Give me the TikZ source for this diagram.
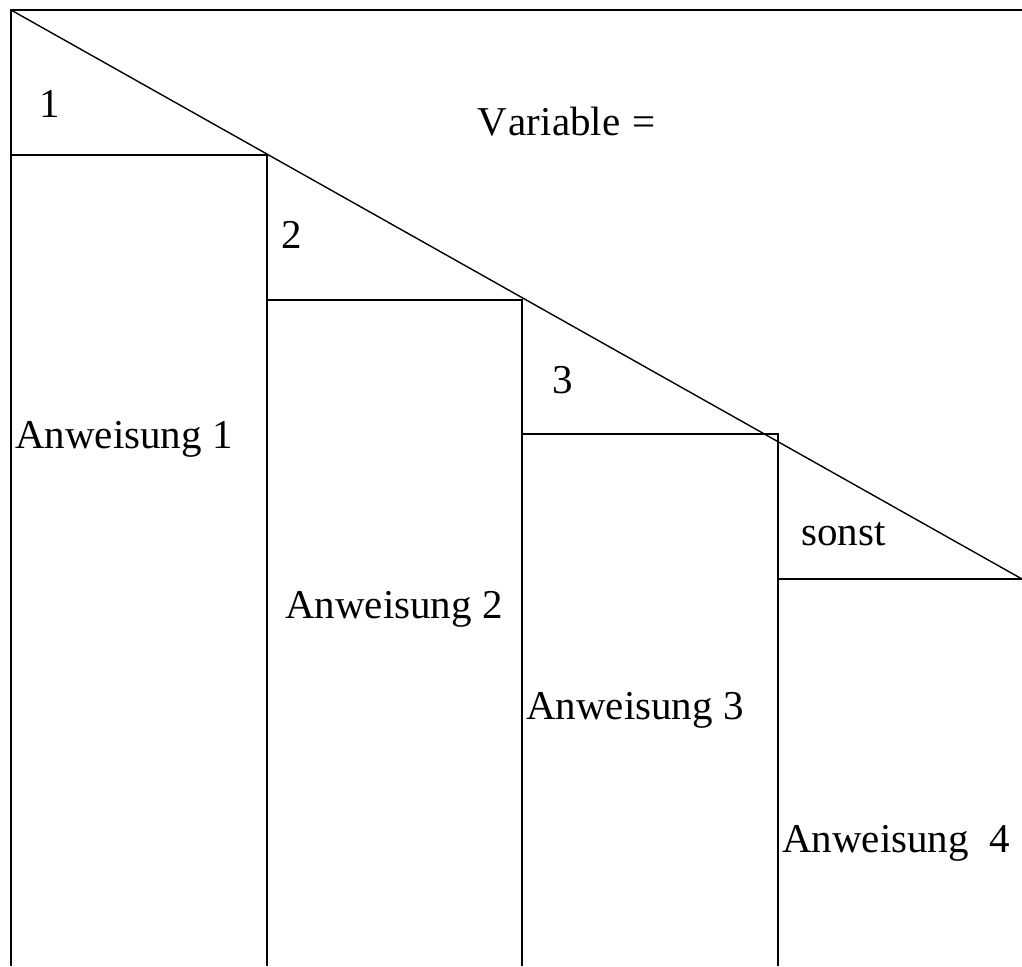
\documentclass[tikz,border=0pt]{standalone}
\usepackage{fontspec}
\setmainfont{Liberation Serif}
\begin{document}
\begin{tikzpicture}[x=1pt,y=-1pt,
  frame/.style={line width=1.8pt,black},
  diag/.style={line width=1.4pt,black},
  lbl/.style={anchor=base west,inner sep=0pt,font=\fontsize{41}{49}\selectfont}]
\useasboundingbox (0,0) rectangle (1022,966);
% corners
\coordinate (TL) at (11,10);
\coordinate (TR) at (1022,10);
\coordinate (BL) at (11,966);
\coordinate (L1) at (11,155);
\coordinate (C1) at (267,155);
\coordinate (B1) at (267,966);
\coordinate (L2) at (267,300);
\coordinate (C2) at (522,300);
\coordinate (B2) at (522,966);
\coordinate (L3) at (522,434);
\coordinate (C3) at (778,434);
\coordinate (B3) at (778,966);
\coordinate (L4) at (778,579);
\coordinate (C4) at (1022,579);
% frame
\draw[frame] (TR) -- (TL) -- (BL);
\draw[diag] (TL) -- (C4);
\draw[frame] (L1) -- (C1) -- (B1);
\draw[frame] (L2) -- (C2) -- (B2);
\draw[frame] (L3) -- (C3) -- (B3);
\draw[frame] (L4) -- (C4);
% labels
\node[lbl] (v) at (477,135) {V\kern2pt ariable\hspace{0.3em}=};
\node[lbl] (k1) at (39,117) {1};
\node[lbl] (k2) at (281,248) {2};
\node[lbl] (k3) at (552,393) {3};
\node[lbl] (k4) at (801,545) {sonst};
\node[lbl] (a1) at (15,448) {Anweisung 1};
\node[lbl] (a2) at (285,618) {Anweisung 2};
\node[lbl] (a3) at (526,719) {Anweisung 3};
\node[lbl] (a4) at (782,852) {Anweisung\ \ 4};
\end{tikzpicture}
\end{document}
